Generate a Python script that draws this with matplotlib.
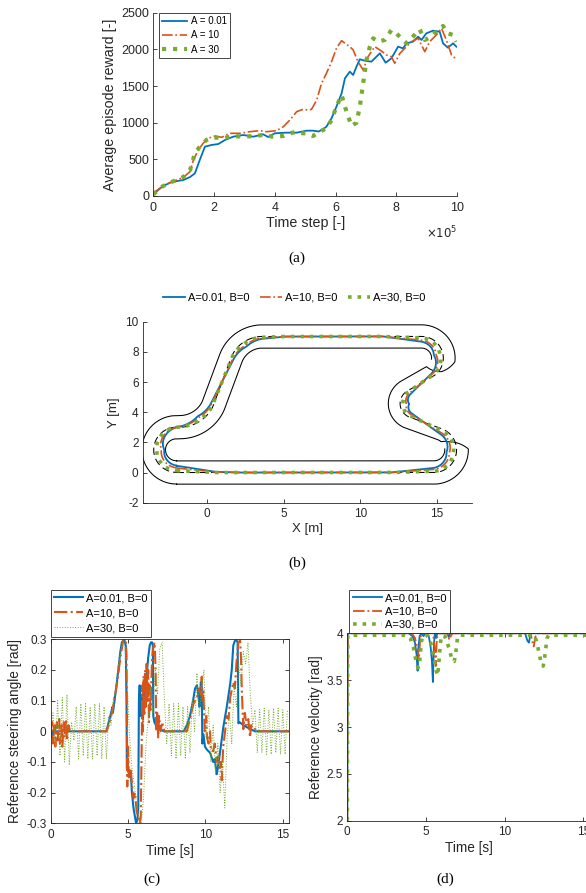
import numpy as np
import matplotlib
matplotlib.use("Agg")
import matplotlib.pyplot as plt

# ---------------- data: panel (a) learning curves (time step in units of 1e5) ----------------
a_blue_x = [0, 0.06, 0.3, 0.55, 0.8, 0.99, 1.21, 1.37, 1.53, 1.7, 1.92, 2.14, 2.36, 2.63, 2.96, 3.29,
            3.62, 3.78, 4.0, 4.39, 4.72, 5.05, 5.26, 5.45, 5.6, 5.70, 5.87, 6.03, 6.2, 6.31, 6.47,
            6.58, 6.69, 6.8, 6.96, 7.18, 7.46, 7.65, 7.84, 8.06, 8.22, 8.34, 8.55, 8.72, 8.83, 8.99,
            9.21, 9.43, 9.54, 9.7, 9.87, 9.98]
a_blue_y = [20, 45, 130, 182, 205, 218, 259, 309, 491, 673, 696, 709, 764, 809, 832, 809,
            841, 805, 855, 864, 864, 891, 891, 880, 915, 945, 1060, 1218, 1400, 1605, 1696,
            1650, 1764, 1865, 1846, 1832, 1946, 1818, 1878, 2037, 2014, 2082, 2105, 2173, 2128, 2219,
            2255, 2241, 2082, 2023, 2082, 2037]
a_orange_x = [0, 0.06, 0.3, 0.55, 0.99, 1.21, 1.32, 1.48, 1.64, 1.81, 2.03, 2.25, 2.52, 2.85, 3.18,
              3.51, 3.73, 4.06, 4.28, 4.5, 4.72, 4.93, 5.1, 5.21, 5.38, 5.54, 5.7, 5.87, 6.03, 6.2,
              6.31, 6.47, 6.58, 6.74, 6.91, 7.07, 7.29, 7.46, 7.68, 7.84, 7.95, 8.12, 8.28, 8.5, 8.72,
              8.94, 9.1, 9.32, 9.49, 9.65, 9.82, 9.98]
a_orange_y = [20, 59, 130, 182, 255, 332, 491, 627, 718, 787, 818, 800, 855, 855, 877,
              891, 877, 891, 945, 1037, 1150, 1182, 1173, 1182, 1309, 1537, 1673, 1832, 2014, 2119,
              2082, 2037, 1992, 1832, 1719, 1900, 2037, 1992, 1923, 1900, 1810, 1946, 2014, 2105, 2151,
              1968, 2105, 2196, 2287, 2128, 1923, 1865]
a_green_x = [0, 0.06, 0.3, 0.55, 0.99, 1.21, 1.37, 1.53, 1.75, 1.97, 2.3, 2.63, 2.96, 3.29, 3.62,
             3.94, 4.28, 4.5, 4.72, 4.93, 5.05, 5.26, 5.48, 5.7, 5.87, 6.03, 6.2, 6.31, 6.42, 6.53,
             6.69, 6.8, 6.91, 7.02, 7.13, 7.24, 7.4, 7.62, 7.84, 8.0, 8.17, 8.34, 8.55, 8.77, 8.94,
             9.15, 9.37, 9.54, 9.7, 9.87, 9.98]
a_green_y = [20, 45, 130, 182, 259, 355, 582, 673, 764, 800, 787, 818, 809, 818, 832,
             809, 818, 855, 877, 855, 855, 818, 877, 923, 1037, 1218, 1378, 1218, 1082, 955,
             1000, 1218, 1537, 1855, 2037, 2151, 2105, 2128, 2264, 2219, 2151, 2082, 2173, 2273, 2128,
             2173, 2264, 2319, 2219, 2196, 2105]
a_labels = ["A = 0.01", "A = 10", "A = 30"]

# ---------------- data: panel (b) track and trajectories ----------------
track_start = (-2.0, 0.0)
seg_length = [16.8, 4.189, 2.2, 2.201, 1.88, 3.744, 10.396, 2.688, 3.18, 2.932, 0.2, 4.712]   # m
seg_turn = [0, 160, 0, -130, 0, 150, 0, 70, 0, -70, 0, 180]                                   # deg
track_half_width = 0.77
# side (+1 right / -1 left of travel) on which the drawn outer border runs, along the centre line
border_s = [0, 19.2, 19.55, 19.92, 20.4, 27.27, 27.9, 28.6, 55.13]
border_side = [1, 1, 0.23, -0.52, -1, -1, 0.2, 1, 1]
infield_gap = (19.3, 28.6)          # stretch of the infield border hidden under the runs
# lateral offsets (m, + = towards infield) of each run at stations along the centre line
station_s = [0, 2.5, 4, 14.0, 16.8, 18.9, 21.0, 22.2, 24.3, 26.3, 27.5, 29.1, 31.0, 33.5,
             39.8, 41.4, 42.75, 45.7, 48.75, 50.4, 52.77, 55.13]
off_blue = [0.45, 0.05, 0, 0, 0.3, 0.65, 0.35, 0.0, -0.6, -0.05, 0.25, 0.6, 0.35, 0.0,
            0.0, 0.15, 0.35, 0.0, -0.35, 0.0, 0.7, 0.45]
off_orange = [0.3, 0.03, 0, 0, 0.2, 0.45, 0.25, 0.0, -0.42, -0.03, 0.18, 0.45, 0.25, 0.0,
              0.0, 0.1, 0.25, 0.0, -0.25, 0.0, 0.5, 0.3]
off_green = [0.12, 0.0, 0, 0, 0.08, 0.2, 0.1, 0.0, -0.2, 0.0, 0.08, 0.2, 0.1, 0.0,
             0.0, 0.05, 0.1, 0.0, -0.1, 0.0, 0.2, 0.12]
b_labels = ["A=0.01, B=0", "A=10, B=0", "A=30, B=0"]

# ---------------- data: panel (c) reference steering angle ----------------
c_blue = [(0, 0), (0.05, -0.02), (0.1, -0.01), (0.2, 0), (3.6, 0), (3.8, 0.04), (4.0, 0.08),
          (4.02, 0.06), (4.1, 0.09), (4.3, 0.17), (4.5, 0.26), (4.6, 0.29), (4.75, 0.30),
          (4.85, 0.28), (4.9, 0.10), (4.92, -0.12), (5.0, -0.13), (5.1, -0.14), (5.17, -0.13),
          (5.25, -0.2), (5.35, -0.25), (5.45, -0.28), (5.52, -0.30), (5.6, -0.29), (5.66, -0.25),
          (5.7, 0.1), (5.75, 0.15), (5.8, 0.05), (5.9, 0.12), (5.95, 0.04), (6.0, 0.13),
          (6.05, 0.08), (6.1, 0.15), (6.2, 0.18), (6.3, 0.24), (6.4, 0.28), (6.48, 0.29),
          (6.55, 0.29), (6.6, 0.28), (6.63, 0.05), (6.7, 0.03), (6.8, 0.02), (7.0, 0.01),
          (7.3, 0), (8.6, 0), (8.8, 0.02), (9.0, 0.05), (9.2, 0.1), (9.33, 0.14), (9.45, 0.15),
          (9.54, 0.12), (9.62, 0.08), (9.7, 0.16), (9.76, 0.15), (9.8, -0.04), (9.87, -0.01),
          (9.97, -0.05), (10.1, -0.06), (10.3, -0.07), (10.5, -0.1), (10.6, -0.09),
          (10.73, -0.14), (10.8, -0.12), (10.94, -0.07), (11.16, 0.015), (11.38, 0.08),
          (11.6, 0.155), (11.7, 0.2), (11.8, 0.28), (11.9, 0.295), (12.0, 0.297), (12.08, 0.29),
          (12.13, 0.026), (12.2, 0.03), (12.45, 0.02), (12.8, 0.01), (13.2, 0), (15.4, 0)]
c_orange = [(0, 0), (0.1, 0.03), (0.15, -0.04), (0.25, 0.02), (0.3, -0.05), (0.4, 0.03),
            (0.45, -0.03), (0.55, 0.04), (0.6, -0.04), (0.7, 0.02), (0.75, -0.05), (0.85, 0.03),
            (0.9, -0.02), (1.0, 0.04), (1.05, -0.03), (1.15, 0.02), (1.25, 0), (3.6, 0),
            (3.75, 0.02), (4.0, 0.07), (4.3, 0.16), (4.5, 0.24), (4.6, 0.27), (4.7, 0.3),
            (4.85, 0.30), (4.9, 0.25), (4.95, -0.18), (5.0, -0.05), (5.05, -0.15), (5.15, -0.12),
            (5.25, -0.17), (5.35, -0.22), (5.45, -0.2), (5.55, -0.26), (5.65, -0.28), (5.75, -0.30),
            (5.82, -0.28), (5.88, -0.05), (5.92, 0.15), (5.96, 0.0), (6.0, 0.18), (6.05, 0.05),
            (6.1, 0.2), (6.15, 0.08), (6.2, 0.22), (6.25, 0.1), (6.3, 0.2), (6.35, 0.03),
            (6.4, 0.15), (6.45, 0.07), (6.55, 0.24), (6.65, 0.28), (6.72, 0.29), (6.78, 0.2),
            (6.82, 0.0), (6.88, 0.06), (6.95, -0.02), (7.0, 0.05), (7.1, 0.0), (7.2, 0.03),
            (7.35, 0.0), (8.8, 0.0), (9.0, 0.04), (9.23, 0.09), (9.45, 0.11), (9.6, 0.14),
            (9.7, 0.12), (9.76, 0.178), (9.82, 0.1), (9.87, 0.13), (9.95, 0.0), (10.05, 0.05),
            (10.1, -0.02), (10.2, -0.04), (10.3, 0.0), (10.35, -0.06), (10.5, -0.065),
            (10.6, -0.04), (10.73, -0.1), (10.85, -0.08), (10.94, -0.12), (11.0, -0.1),
            (11.05, -0.16), (11.15, -0.05), (11.27, 0.0), (11.38, 0.05), (11.5, 0.04),
            (11.6, 0.11), (11.8, 0.16), (11.9, 0.14), (12.0, 0.22), (12.13, 0.29), (12.24, 0.297),
            (12.3, 0.24), (12.35, 0.135), (12.45, 0.007), (12.55, 0.06), (12.65, 0.02),
            (12.77, 0.04), (12.88, -0.02), (12.95, 0.02), (13.1, 0.005), (13.3, 0.01), (13.5, 0),
            (15.4, 0)]
c_green_dt = 0.15   # s, sampling step of the A=30 steering signal
c_green = [0.00, 0.06, -0.05, 0.10, -0.08, 0.11, -0.10, 0.12, -0.11, 0.03,
           -0.03, 0.08, -0.09, 0.09, -0.08, 0.09, -0.09, 0.08, -0.09, 0.09,
           -0.08, 0.09, -0.09, 0.08, -0.09, 0.05, 0.02, 0.11, 0.13, 0.21,
           0.25, 0.29, 0.28, 0.15, -0.02, -0.12, -0.17, -0.24, -0.28, -0.30,
           -0.22, -0.05, 0.04, 0.14, 0.06, 0.21, 0.12, 0.27, 0.29, 0.10,
           -0.04, 0.09, -0.08, 0.09, -0.09, 0.09, -0.08, 0.08, -0.09, 0.08,
           -0.07, 0.10, 0.00, 0.19, 0.05, 0.14, 0.20, -0.02, 0.08, -0.10,
           0.02, -0.14, -0.04, -0.20, -0.10, -0.25, -0.02, 0.06, -0.04, 0.15,
           0.08, 0.22, 0.15, 0.26, 0.22, 0.29, 0.12, 0.02, 0.07, -0.07,
           0.075, -0.07, 0.075, -0.075, 0.07, -0.075, 0.075, -0.07, 0.075, -0.075,
           0.07, -0.075, 0.07]

# ---------------- data: panel (d) reference velocity ----------------
d_blue = [(0, 2), (0.03, 4), (3.9, 4), (4.15, 3.97), (4.3, 3.9), (4.4, 3.78), (4.47, 3.6),
          (4.52, 3.85), (4.6, 3.97), (4.7, 4), (4.85, 3.97), (4.95, 4), (5.1, 4), (5.2, 3.95),
          (5.3, 3.85), (5.38, 3.7), (5.44, 3.48), (5.5, 3.85), (5.56, 4), (5.65, 3.95), (5.72, 4),
          (6.35, 4), (6.45, 3.96), (6.55, 4), (11.3, 4), (11.45, 3.92), (11.55, 3.9),
          (11.62, 3.98), (11.7, 4), (15.5, 4)]
d_orange = [(0, 2), (0.03, 4), (4.1, 4), (4.3, 3.95), (4.45, 3.85), (4.55, 3.72), (4.62, 3.9),
            (4.7, 4), (5.45, 4), (5.55, 3.85), (5.62, 3.65), (5.68, 3.9), (5.75, 4), (6.35, 4),
            (6.45, 3.95), (6.5, 3.93), (6.6, 3.98), (6.7, 4), (11.65, 4), (11.8, 3.88),
            (11.85, 3.86), (11.95, 3.96), (12.05, 4), (15.5, 4)]
d_green = [(0, 2), (0.03, 3.98), (3.8, 3.98), (4.0, 3.95), (4.2, 3.85), (4.35, 3.72), (4.5, 3.63),
           (4.6, 3.7), (4.7, 3.9), (4.8, 3.98), (5.1, 3.98), (5.3, 3.9), (5.5, 3.75), (5.65, 3.6),
           (5.75, 3.55), (5.85, 3.75), (5.95, 3.95), (6.05, 3.98), (6.2, 3.97), (6.35, 3.9),
           (6.5, 3.82), (6.65, 3.72), (6.8, 3.7), (6.9, 3.8), (7.0, 3.95), (7.1, 3.98),
           (11.9, 3.98), (12.05, 3.9), (12.2, 3.78), (12.35, 3.66), (12.45, 3.65), (12.55, 3.75),
           (12.7, 3.95), (12.8, 3.98), (15.5, 3.98)]

# ---------------- style ----------------
BLUE, ORANGE, GREEN = "#0072BD", "#D95319", "#77AC30"
AXC = "#262626"
plt.rcParams.update({
    "font.family": ["Liberation Sans", "DejaVu Sans"],
    "font.size": 8.5,
    "axes.unicode_minus": False,
    "axes.linewidth": 0.6,
    "axes.edgecolor": AXC,
    "axes.labelcolor": AXC,
    "xtick.color": AXC, "ytick.color": AXC,
    "xtick.direction": "in", "ytick.direction": "in",
    "xtick.major.size": 3, "ytick.major.size": 3,
    "xtick.major.width": 0.6, "ytick.major.width": 0.6,
    "xtick.major.pad": 4, "ytick.major.pad": 3,
    "legend.fontsize": 8,
    "lines.dash_capstyle": "butt",
})

W, H = 586, 893
fig = plt.figure(figsize=(W / 100, H / 100), dpi=100)


def ax_px(l, t, r, b):
    return fig.add_axes([l / W, 1 - b / H, (r - l) / W, (b - t) / H])


def style_legend(leg):
    fr = leg.get_frame()
    fr.set_edgecolor(AXC)
    fr.set_linewidth(0.6)
    fr.set_boxstyle("square", pad=0)


# ================= (a) =================
axa = ax_px(153.3, 12.7, 457, 196)
axa.plot(a_blue_x, a_blue_y, color=BLUE, lw=1.3, label=a_labels[0])
axa.plot(a_orange_x, a_orange_y, color=ORANGE, lw=1.2, ls="-.", label=a_labels[1])
axa.plot(a_green_x, a_green_y, color=GREEN, lw=3.0, ls=":", label=a_labels[2])
axa.set_xlim(0, 10)
axa.set_ylim(0, 2500)
axa.set_xticks(range(0, 11, 2))
axa.set_yticks(range(0, 2501, 500))
axa.tick_params(labelsize=9)
axa.spines["top"].set_visible(False)
axa.spines["right"].set_visible(False)
axa.set_xlabel("Time step [-]", fontsize=10.3, labelpad=2)
axa.set_ylabel("Average episode reward [-]", fontsize=10.3, labelpad=3)
axa.text(1.0, -0.2, r"$\times10^{5}$", transform=axa.transAxes, ha="right", va="center",
         fontsize=8.5, color=AXC)
leg = axa.legend(loc="upper left", bbox_to_anchor=(0.018, 1.0), borderaxespad=0,
                 handlelength=2.6, handletextpad=0.35, labelspacing=0.45, borderpad=0.35,
                 fancybox=False, framealpha=1, fontsize=7)
style_legend(leg)

# ================= (b) =================
axb = ax_px(142.7, 321.7, 471.7, 502.7)
xs, ys, hs, ss = [track_start[0]], [track_start[1]], [0.0], [0.0]
h = 0.0
for L, turn in zip(seg_length, seg_turn):
    n = max(2, int(L / 0.02))
    dh = np.radians(turn) / n
    step = L / n
    for _ in range(n):
        hm = h + dh / 2
        xs.append(xs[-1] + step * np.cos(hm))
        ys.append(ys[-1] + step * np.sin(hm))
        h += dh
        hs.append(h)
        ss.append(ss[-1] + step)
xs, ys, hs, ss = map(np.array, (xs, ys, hs, ss))
nx, ny = -np.sin(hs), np.cos(hs)
w = track_half_width
side = np.interp(ss, border_s, border_side)
axb.plot(xs - side * w * nx, ys - side * w * ny, color="black", lw=0.75)
hidden = (ss > infield_gap[0]) & (ss < infield_gap[1])
ix = np.where(hidden, np.nan, xs + w * nx)
iy = np.where(hidden, np.nan, ys + w * ny)
axb.plot(ix, iy, color="black", lw=0.75)
axb.plot(xs, ys, color="black", lw=0.75, dashes=(7, 4))
runs = [(off_blue, BLUE, "-", 1.3), (off_orange, ORANGE, "-.", 1.2), (off_green, GREEN, ":", 2.6)]
for (off, col, ls, lw), lab in zip(runs, b_labels):
    o = np.interp(ss, station_s, off)
    axb.plot(xs + o * nx, ys + o * ny, color=col, ls=ls, lw=lw, label=lab)
axb.set_xlim(-4.22, 17.29)
axb.set_ylim(-2, 10)
axb.set_xticks([0, 5, 10, 15])
axb.set_yticks(range(-2, 11, 2))
axb.spines["top"].set_visible(False)
axb.spines["right"].set_visible(False)
axb.set_xlabel("X [m]", fontsize=9.5, labelpad=2)
axb.set_ylabel("Y [m]", fontsize=9.5, labelpad=4)
axb.legend(loc="center", bbox_to_anchor=(294 / W, 1 - 298 / H), bbox_transform=fig.transFigure,
           ncol=3, frameon=False, handlelength=2.0, handletextpad=0.3, columnspacing=0.9,
           fontsize=8)

# ================= (c) =================
axc = ax_px(50.7, 639.3, 289.3, 823.3)
tb, yb = zip(*c_blue)
to, yo = zip(*c_orange)
tg = np.arange(len(c_green)) * c_green_dt
axc.plot(tb, yb, color=BLUE, lw=1.5, label=b_labels[0])
axc.plot(to, yo, color=ORANGE, lw=1.5, ls="-.", label=b_labels[1])
axc.plot(tg, c_green, color=GREEN, lw=0.7, ls=":", label=b_labels[2])
axc.set_xlim(0, 15.42)
axc.set_ylim(-0.3, 0.3)
axc.set_xticks([0, 5, 10, 15])
yt = [-0.3, -0.2, -0.1, 0, 0.1, 0.2, 0.3]
axc.set_yticks(yt)
axc.set_yticklabels(["-0.3", "-0.2", "-0.1", "0", "0.1", "0.2", "0.3"])
axc.tick_params(top=True, right=True)
axc.set_xlabel("Time [s]", fontsize=9.8, labelpad=2)
axc.set_ylabel("Reference steering angle [rad]", fontsize=9.8, labelpad=3)
leg = axc.legend(loc="lower left", bbox_to_anchor=(50.7 / W, 1 - 636.7 / H),
                 bbox_transform=fig.transFigure, borderaxespad=0, handlelength=2.6,
                 handletextpad=0.3, labelspacing=0.45, borderpad=0.3, fancybox=False,
                 framealpha=1)
style_legend(leg)

# ================= (d) =================
axd = ax_px(347.3, 633.3, 589.9, 820.7)
for data, col, ls, lw, lab in [(d_blue, BLUE, "-", 1.3, b_labels[0]),
                               (d_orange, ORANGE, "-.", 1.3, b_labels[1]),
                               (d_green, GREEN, ":", 2.6, b_labels[2])]:
    t, v = zip(*data)
    axd.plot(t, v, color=col, ls=ls, lw=lw, label=lab)
axd.set_xlim(0, 15.42)
axd.set_ylim(2, 4)
axd.set_xticks([0, 5, 10, 15])
axd.set_yticks([2, 2.5, 3, 3.5, 4])
axd.set_yticklabels(["2", "2.5", "3", "3.5", "4"])
axd.tick_params(top=True, right=True)
axd.set_xlabel("Time [s]", fontsize=9.8, labelpad=2)
axd.set_ylabel("Reference velocity [rad]", fontsize=9.8, labelpad=3)
leg = axd.legend(loc="lower left", bbox_to_anchor=(349.3 / W, 1 - 633.3 / H),
                 bbox_transform=fig.transFigure, borderaxespad=0, handlelength=2.6,
                 handletextpad=0.3, labelspacing=0.3, borderpad=0.3, fancybox=False,
                 framealpha=1)
style_legend(leg)

# ================= captions =================
for txt, x, y in [("(a)", 297, 258), ("(b)", 297, 563), ("(c)", 152, 879), ("(d)", 445, 879)]:
    fig.text(x / W, 1 - y / H, txt, ha="center", va="center", fontsize=11,
             family=["Liberation Serif", "DejaVu Serif"], color="black")

fig.savefig("out.png", dpi=100)
